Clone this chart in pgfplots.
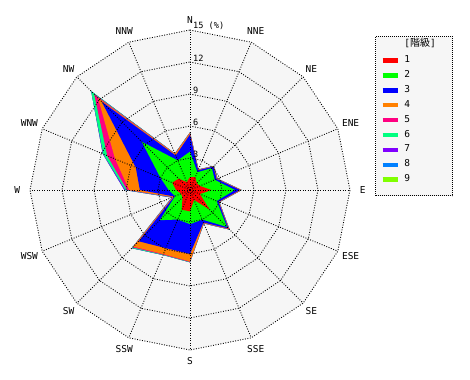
\documentclass[border=0pt]{standalone}
\usepackage{pgfplots}
\pgfplotsset{compat=1.18}
\usepackage{pgfplotstable}
\usepgfplotslibrary{polar}
\usepackage{fontspec}
\setmainfont{DejaVu Sans Mono}
\newfontfamily\cjk{Noto Sans CJK JP}
\definecolor{k1}{RGB}{255,0,0}
\definecolor{k2}{RGB}{0,255,0}
\definecolor{k3}{RGB}{0,0,255}
\definecolor{k4}{RGB}{255,128,0}
\definecolor{k5}{RGB}{255,0,128}
\definecolor{k6}{RGB}{0,255,128}
\definecolor{k7}{RGB}{128,0,255}
\definecolor{k8}{RGB}{0,128,255}
\definecolor{k9}{RGB}{128,255,0}
\definecolor{bgg}{RGB}{246,246,246}
\newcommand\lbl{\fontsize{9.5bp}{11bp}\selectfont}
\newcommand\tck{\fontsize{8.6bp}{10bp}\selectfont}
% cumulative frequency (%) by direction, classes 1..9
\pgfplotstableread{
dir ang c1 c2 c3 c4 c5 c6 c7 c8 c9
N 90 1.2 3.6 5.2 5.35 5.38 5.40 5.40 5.40 5.40
NNE 67.5 1.3 1.8 2.0 2.05 2.07 2.09 2.09 2.09 2.09
NE 45 0.9 2.9 3.1 3.15 3.17 3.20 3.20 3.20 3.20
ENE 22.5 1.0 2.5 2.7 2.75 2.77 2.79 2.79 2.79 2.79
E 0 2.0 4.2 4.7 4.80 4.82 4.84 4.84 4.84 4.84
ESE -22.5 1.0 2.7 2.9 2.95 2.97 2.99 2.99 2.99 2.99
SE -45 2.6 4.9 5.1 5.15 5.22 5.25 5.25 5.25 5.25
SSE -67.5 1.0 3.0 3.3 3.35 3.38 3.40 3.40 3.40 3.40
S -90 2.0 3.2 6.0 6.70 6.75 6.78 6.78 6.78 6.78
SSW -112.5 2.0 3.0 5.9 6.50 6.56 6.60 6.60 6.60 6.60
SW -135 1.0 4.0 6.8 7.50 7.60 7.70 7.72 7.72 7.72
WSW -157.5 0.9 1.5 1.6 1.70 1.75 1.80 1.85 1.85 1.85
W 180 1.3 2.0 4.7 5.70 5.90 6.05 6.15 6.15 6.15
WNW 157.5 1.8 3.0 5.5 7.60 8.40 8.80 8.85 8.85 8.85
NW 135 1.5 6.4 11.7 12.2 12.7 13.1 13.1 13.1 13.1
NNW 112.5 0.8 3.0 3.5 3.65 3.68 3.70 3.70 3.70 3.70
}\rose
\tikzset{gridl/.style={black, line width=0.9bp, dash pattern=on 0.9bp off 1.6bp}}
\begin{document}
\begin{tikzpicture}
\begin{polaraxis}[
  scale only axis, width=320bp, height=320bp,
  xmin=0, xmax=360, ymin=0, ymax=15,
  hide axis, clip=false, grid=none, xtick=\empty, ytick=\empty,
  legend image code/.code={\draw[solid,line width=4.5bp,#1] (0bp,0bp) -- (15.5bp,0bp);},
  legend cell align=left,
  legend style={at={(axis cs:39.78,22.6)}, anchor=north west, draw=black,
    dash pattern=on 0.9bp off 1.1bp, line width=0.9bp, fill=bgg,
    inner xsep=4.7bp, inner ysep=3.3bp, row sep=4.9bp, column sep=4bp,
    nodes={inner sep=0bp, text height=7bp, text depth=3bp, font=\lbl}},
]
\coordinate (O) at (axis cs:0,0);
\addplot[fill=bgg, draw=none, forget plot] table[x=ang, y expr=15]{\rose} -- cycle;
\addplot[fill=k9, draw=none, forget plot] table[x=ang, y=c9]{\rose} -- cycle;
\addplot[fill=k8, draw=none, forget plot] table[x=ang, y=c8]{\rose} -- cycle;
\addplot[fill=k7, draw=none, forget plot] table[x=ang, y=c7]{\rose} -- cycle;
\addplot[fill=k6, draw=none, forget plot] table[x=ang, y=c6]{\rose} -- cycle;
\addplot[fill=k5, draw=none, forget plot] table[x=ang, y=c5]{\rose} -- cycle;
\addplot[fill=k4, draw=none, forget plot] table[x=ang, y=c4]{\rose} -- cycle;
\addplot[fill=k3, draw=none, forget plot] table[x=ang, y=c3]{\rose} -- cycle;
\addplot[fill=k2, draw=none, forget plot] table[x=ang, y=c2]{\rose} -- cycle;
\addplot[fill=k1, draw=none, forget plot] table[x=ang, y=c1]{\rose} -- cycle;
\pgfplotsinvokeforeach{3,6,9,12,15}{
  \addplot[gridl, forget plot] table[x=ang, y expr=#1]{\rose} -- cycle;
}
\pgfplotsinvokeforeach{0,22.5,...,337.5}{
  \addplot[gridl, forget plot] coordinates {(#1,0) (#1,15)};
}
\addlegendimage{empty legend}\addlegendentry[text depth=4.1bp]{[{\cjk\fontsize{10bp}{11bp}\selectfont 階級}]\hspace*{12bp}}
\addlegendimage{k1}\addlegendentry{1}
\addlegendimage{k2}\addlegendentry{2}
\addlegendimage{k3}\addlegendentry{3}
\addlegendimage{k4}\addlegendentry{4}
\addlegendimage{k5}\addlegendentry{5}
\addlegendimage{k6}\addlegendentry{6}
\addlegendimage{k7}\addlegendentry{7}
\addlegendimage{k8}\addlegendentry{8}
\addlegendimage{k9}\addlegendentry{9}
\addlegendimage{empty legend}\addlegendentry[text height=0bp, text depth=2.8bp]{}
% direction labels
\node[font=\lbl] at (axis cs:90,15.9) {N};
\node[font=\lbl] at (axis cs:67.5,16.1) {NNE};
\node[font=\lbl] at (axis cs:45,16.1) {NE};
\node[font=\lbl] at (axis cs:22.5,16.3) {ENE};
\node[font=\lbl] at (axis cs:0,16.2) {E};
\node[font=\lbl] at (axis cs:-22.5,16.3) {ESE};
\node[font=\lbl] at (axis cs:-45,16.1) {SE};
\node[font=\lbl] at (axis cs:-67.5,16.1) {SSE};
\node[font=\lbl] at (axis cs:-90,16.0) {S};
\node[font=\lbl] at (axis cs:-112.5,16.1) {SSW};
\node[font=\lbl] at (axis cs:-135,16.1) {SW};
\node[font=\lbl] at (axis cs:-157.5,16.3) {WSW};
\node[font=\lbl] at (axis cs:180,16.2) {W};
\node[font=\lbl] at (axis cs:157.5,16.3) {WNW};
\node[font=\lbl] at (axis cs:135,16.1) {NW};
\node[font=\lbl] at (axis cs:112.5,16.1) {NNW};
% radial tick labels
\node[font=\tck, anchor=south west, inner sep=0.5bp, xshift=2.5bp] at (axis cs:90,3) {3};
\node[font=\tck, anchor=south west, inner sep=0.5bp, xshift=2.5bp] at (axis cs:90,6) {6};
\node[font=\tck, anchor=south west, inner sep=0.5bp, xshift=2.5bp] at (axis cs:90,9) {9};
\node[font=\tck, anchor=south west, inner sep=0.5bp, xshift=2.5bp] at (axis cs:90,12) {12};
\node[font=\tck, anchor=south west, inner sep=0.5bp, xshift=2.5bp] at (axis cs:90,15) {15 (\%)};
\end{polaraxis}
\pgfresetboundingbox
\path[use as bounding box] (O) ++(-190bp,190bp) rectangle ++(470bp,-380bp);
\end{tikzpicture}
\end{document}
